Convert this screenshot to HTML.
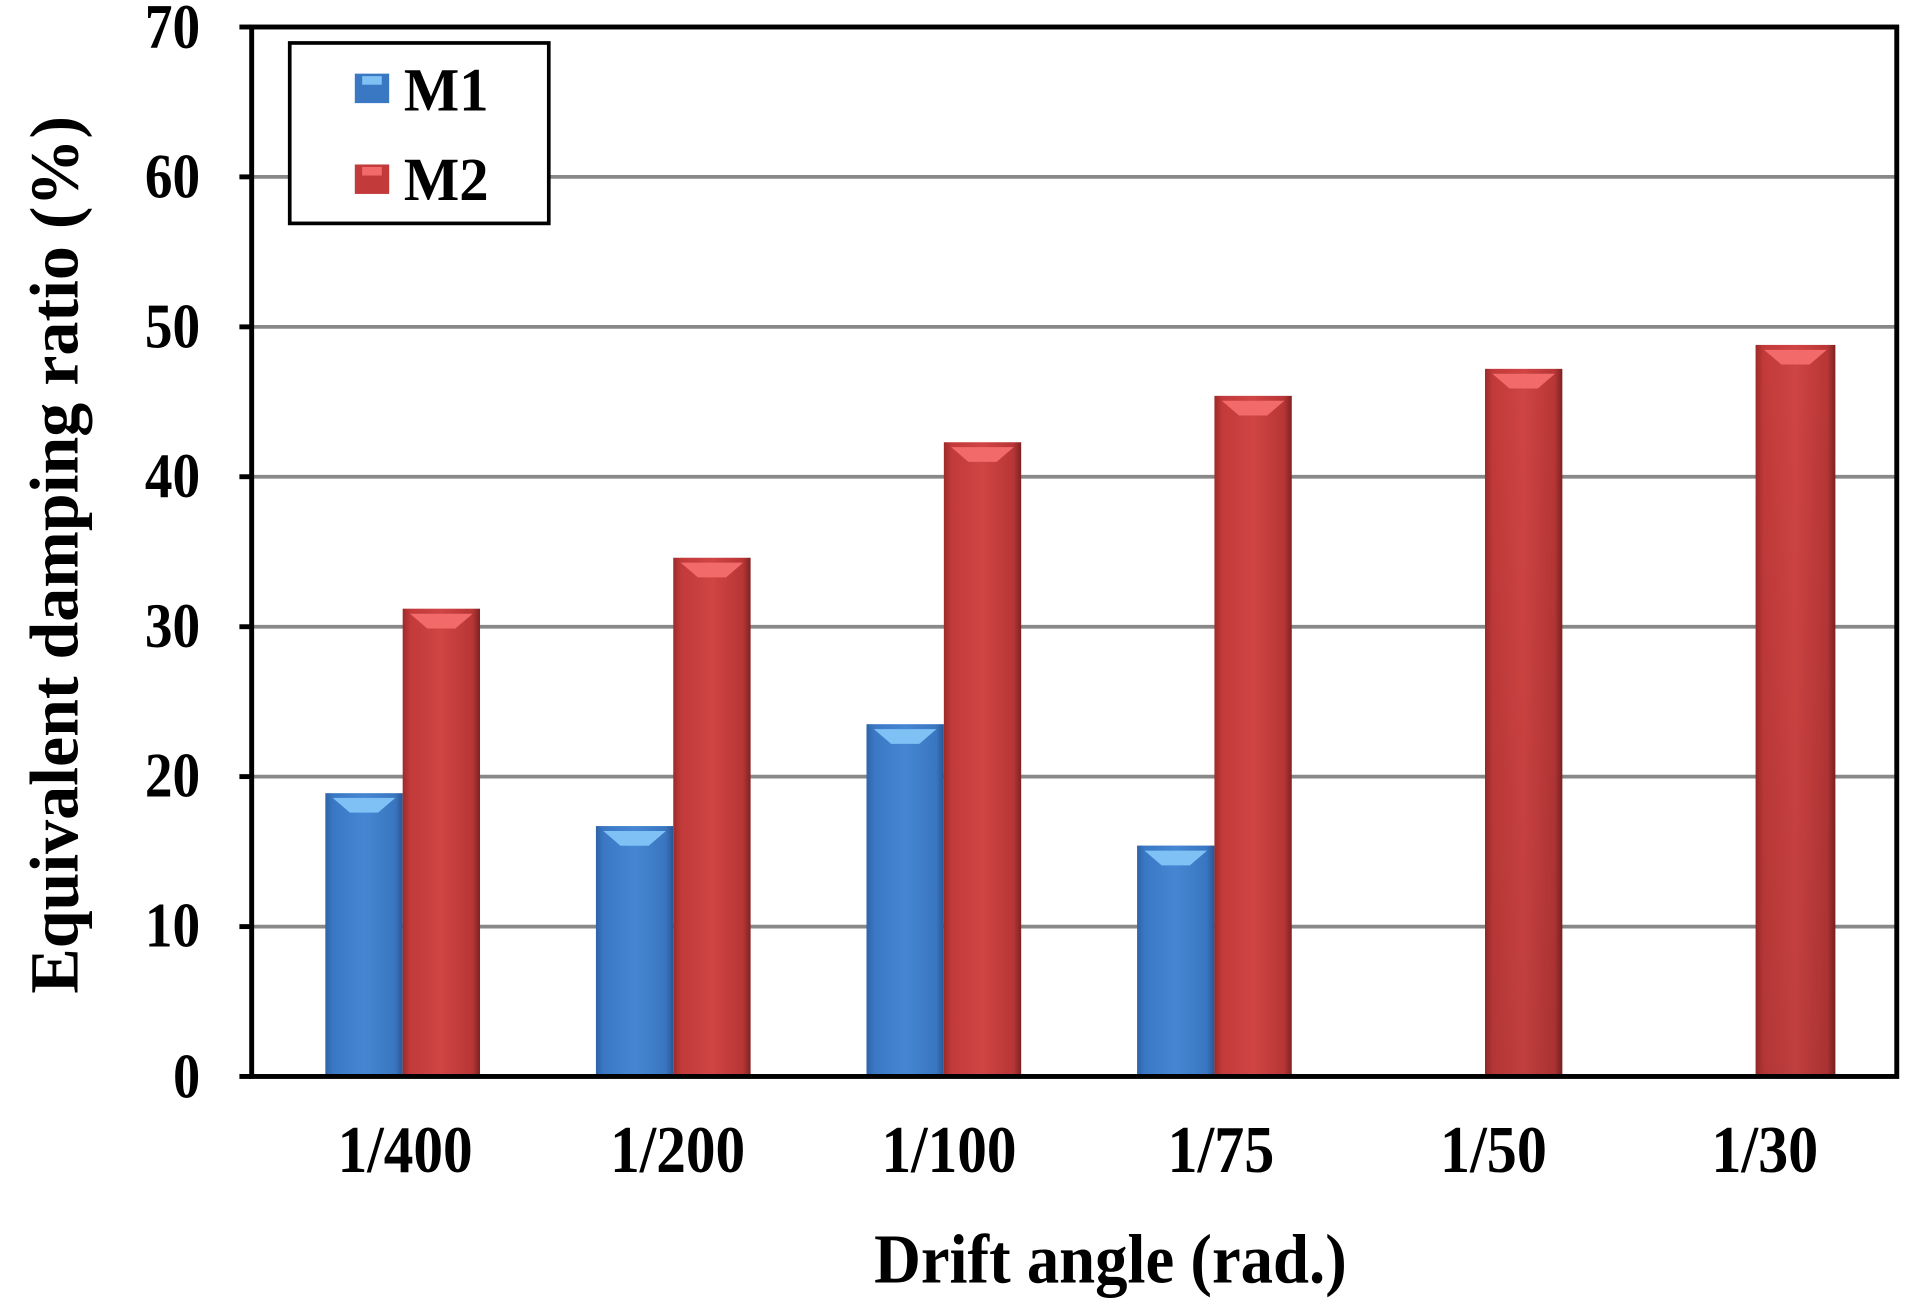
<!DOCTYPE html>
<html><head><meta charset="utf-8"><style>html,body{margin:0;padding:0;background:#fff}svg{display:block}</style></head>
<body>
<svg width="1925" height="1306" viewBox="0 0 1568 1064" preserveAspectRatio="none" xmlns="http://www.w3.org/2000/svg" font-family="'Liberation Serif',serif" font-weight="bold">
<defs>
<linearGradient id="gb" x1="0" x2="1" y1="0" y2="0">
<stop offset="0" stop-color="#2f63a8"/><stop offset="0.1" stop-color="#3a78c4"/><stop offset="0.5" stop-color="#4586d2"/><stop offset="0.9" stop-color="#3a76c0"/><stop offset="1" stop-color="#2a5694"/></linearGradient>
<linearGradient id="gr" x1="0" x2="1" y1="0" y2="0">
<stop offset="0" stop-color="#9e2a2a"/><stop offset="0.1" stop-color="#c23a3a"/><stop offset="0.5" stop-color="#d04444"/><stop offset="0.9" stop-color="#b83636"/><stop offset="1" stop-color="#7e2222"/></linearGradient>
<linearGradient id="gr2" x1="0" x2="0" y1="0" y2="1"><stop offset="0" stop-color="#000" stop-opacity="0"/><stop offset="1" stop-color="#000" stop-opacity="0.08"/></linearGradient>
</defs>
<g stroke="#888" stroke-width="3">
<line x1="205" x2="1545" y1="144.1" y2="144.1"/>
<line x1="205" x2="1545" y1="266.3" y2="266.3"/>
<line x1="205" x2="1545" y1="388.4" y2="388.4"/>
<line x1="205" x2="1545" y1="510.6" y2="510.6"/>
<line x1="205" x2="1545" y1="632.7" y2="632.7"/>
<line x1="205" x2="1545" y1="754.9" y2="754.9"/>
</g>
<g>
<rect x="265" y="646.2" width="63" height="230.8" fill="url(#gb)"/>
<rect x="485.4" y="673" width="63" height="204" fill="url(#gb)"/>
<rect x="705.8" y="590" width="63" height="287" fill="url(#gb)"/>
<rect x="926.2" y="688.9" width="63" height="188.1" fill="url(#gb)"/>
<g fill="#7fc0f5">
<polygon points="271,650 322,650 308,662 285,662"/>
<polygon points="491.4,677 542.4,677 528.4,689 505.4,689"/>
<polygon points="711.8,594 762.8,594 748.8,606 725.8,606"/>
<polygon points="932.2,693 983.2,693 969.2,705 946.2,705"/>
</g>
<rect x="328" y="495.9" width="63" height="381.1" fill="url(#gr)"/>
<rect x="548.4" y="454.4" width="63" height="422.6" fill="url(#gr)"/>
<rect x="768.8" y="360.3" width="63" height="516.7" fill="url(#gr)"/>
<rect x="989.2" y="322.5" width="63" height="554.5" fill="url(#gr)"/>
<rect x="1209.6" y="300.5" width="63" height="576.5" fill="url(#gr)"/>
<rect x="1430" y="281" width="65" height="596" fill="url(#gr)"/>
<rect x="1430" y="281" width="65" height="596" fill="url(#gr2)"/>
<rect x="1209.6" y="300.5" width="63" height="576.5" fill="url(#gr2)"/>
<g fill="#f26a6a">
<polygon points="334,500 385,500 371,512 348,512"/>
<polygon points="554.4,458.4 605.4,458.4 591.4,470.4 568.4,470.4"/>
<polygon points="774.8,364.3 825.8,364.3 811.8,376.3 788.8,376.3"/>
<polygon points="995.2,326.5 1046.2,326.5 1032.2,338.5 1009.2,338.5"/>
<polygon points="1215.6,304.5 1266.6,304.5 1252.6,316.5 1229.6,316.5"/>
<polygon points="1437,285 1488,285 1474,297 1451,297"/>
</g>
</g>
<g stroke="#000" stroke-width="4" fill="none">
<rect x="205" y="22" width="1340" height="855"/>
<line x1="195" x2="205" y1="22" y2="22"/><line x1="195" x2="205" y1="144.1" y2="144.1"/><line x1="195" x2="205" y1="266.3" y2="266.3"/><line x1="195" x2="205" y1="388.4" y2="388.4"/><line x1="195" x2="205" y1="510.6" y2="510.6"/><line x1="195" x2="205" y1="632.7" y2="632.7"/><line x1="195" x2="205" y1="754.9" y2="754.9"/><line x1="195" x2="205" y1="877" y2="877"/>
</g>
<g font-size="52">
<text x="118" y="39" textLength="45" lengthAdjust="spacingAndGlyphs">70</text>
<text x="118" y="161" textLength="45" lengthAdjust="spacingAndGlyphs">60</text>
<text x="118" y="283" textLength="45" lengthAdjust="spacingAndGlyphs">50</text>
<text x="118" y="405" textLength="45" lengthAdjust="spacingAndGlyphs">40</text>
<text x="118" y="527" textLength="45" lengthAdjust="spacingAndGlyphs">30</text>
<text x="118" y="649" textLength="45" lengthAdjust="spacingAndGlyphs">20</text>
<text x="118" y="771" textLength="45" lengthAdjust="spacingAndGlyphs">10</text>
<text x="141" y="894" textLength="22" lengthAdjust="spacingAndGlyphs">0</text>
</g>
<g font-size="54">
<text x="275" y="955" textLength="110" lengthAdjust="spacingAndGlyphs">1/400</text>
<text x="497" y="955" textLength="110" lengthAdjust="spacingAndGlyphs">1/200</text>
<text x="718" y="955" textLength="110" lengthAdjust="spacingAndGlyphs">1/100</text>
<text x="951" y="955" textLength="87" lengthAdjust="spacingAndGlyphs">1/75</text>
<text x="1173" y="955" textLength="87" lengthAdjust="spacingAndGlyphs">1/50</text>
<text x="1394" y="955" textLength="87" lengthAdjust="spacingAndGlyphs">1/30</text>
</g>
<text x="712" y="1045" font-size="57" textLength="385" lengthAdjust="spacingAndGlyphs">Drift angle (rad.)</text>
<text transform="translate(63,452) rotate(-90)" font-size="56" text-anchor="middle" textLength="715" lengthAdjust="spacingAndGlyphs">Equivalent damping ratio (%)</text>
<rect x="236" y="35" width="211" height="147" fill="#fff" stroke="#000" stroke-width="3"/>
<rect x="289" y="60" width="28" height="24" fill="#3a78c4"/><rect x="295" y="62" width="16" height="7" fill="#7fc0f5"/>
<rect x="289" y="134" width="28" height="24" fill="#c23a3a"/><rect x="295" y="136" width="16" height="7" fill="#f26a6a"/>
<text x="329" y="90" font-size="50" textLength="69" lengthAdjust="spacingAndGlyphs">M1</text>
<text x="329" y="163" font-size="50" textLength="69" lengthAdjust="spacingAndGlyphs">M2</text>
</svg>
</body></html>
